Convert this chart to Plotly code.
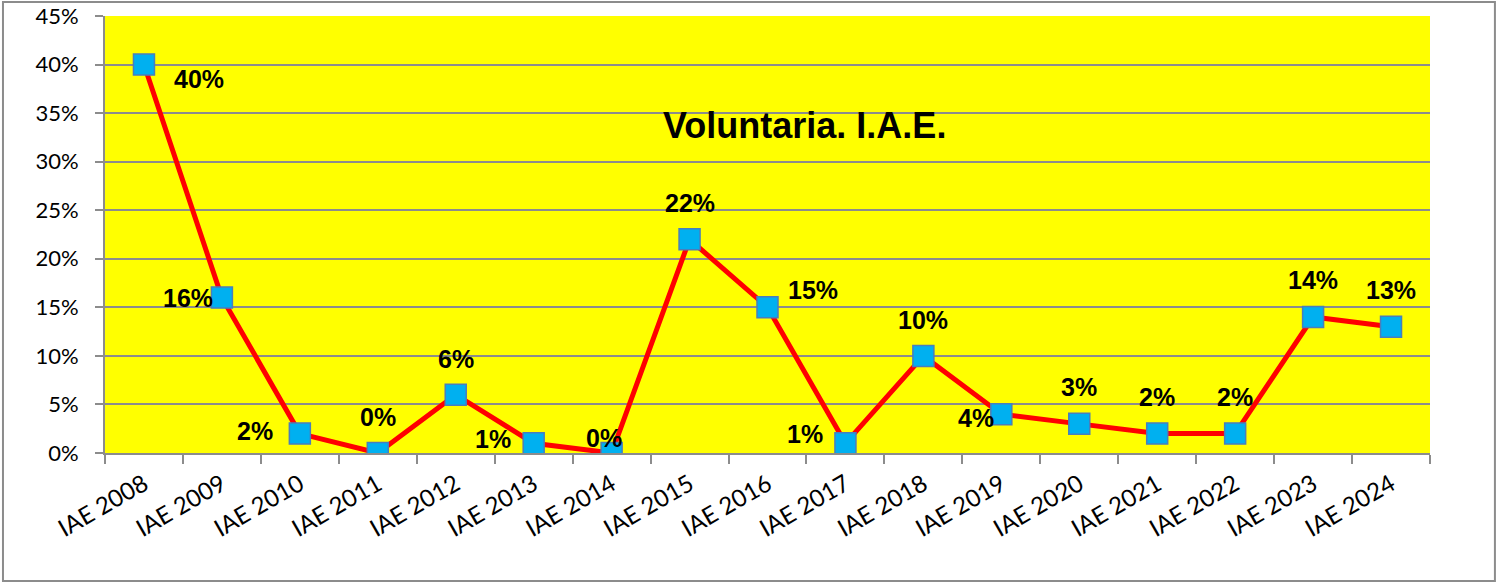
import plotly.graph_objects as go

# data
categories = ["IAE 2008", "IAE 2009", "IAE 2010", "IAE 2011", "IAE 2012", "IAE 2013",
              "IAE 2014", "IAE 2015", "IAE 2016", "IAE 2017", "IAE 2018", "IAE 2019",
              "IAE 2020", "IAE 2021", "IAE 2022", "IAE 2023", "IAE 2024"]
values = [0.40, 0.16, 0.02, 0.00, 0.06, 0.01, 0.00, 0.22, 0.15, 0.01, 0.10, 0.04,
          0.03, 0.02, 0.02, 0.14, 0.13]
title_text = "Voluntaria. I.A.E."

# where each data label sits relative to its point (pixels)
label_shift = [(55, -14), (-34, 0), (-45, 3), (0, 36), (0, 36), (-41, 4), (-8, 15),
               (0, 36), (45, 17), (-40, 9), (0, 36), (-25, -4), (0, 37), (0, 37),
               (0, 37), (0, 37), (0, 37)]

GRID = "#8c8c8c"

fig = go.Figure()
fig.add_trace(go.Scatter(
    x=categories, y=values, mode="lines+markers",
    line=dict(color="#FF0000", width=5),
    marker=dict(symbol="square", size=21, color="#00B0F0",
                line=dict(color="#4A7EBB", width=1.5)),
    hoverinfo="x+y", showlegend=False,
))

for cat, val, (dx, dy) in zip(categories, values, label_shift):
    fig.add_annotation(x=cat, y=val, text=f"{val:.0%}", showarrow=False,
                       xshift=dx, yshift=dy,
                       font=dict(family="Liberation Sans, Arial", size=25, color="black",
                                 weight="bold"))

fig.add_annotation(x=0.528, y=0.75, xref="paper", yref="paper", text=title_text,
                   showarrow=False, xanchor="center", yanchor="middle",
                   font=dict(family="Liberation Sans, Arial", size=36, color="black",
                             weight="bold"))

# outer chart border
fig.add_shape(type="rect", xref="paper", yref="paper",
              x0=-0.077, x1=1.049, y0=-0.293, y1=1.032,
              line=dict(color=GRID, width=2), fillcolor="rgba(0,0,0,0)", layer="below")

fig.update_layout(
    width=1499, height=584,
    margin=dict(l=105, r=69, t=16, b=131, autoexpand=False),
    paper_bgcolor="white", plot_bgcolor="#FFFF00",
    font=dict(family="Lato, sans-serif", size=20, color="black"),
)
fig.update_xaxes(
    type="category", range=[-0.5, 16.5], tickangle=-30, automargin=False,
    ticks="outside", tickson="boundaries", ticklen=9, tickcolor=GRID, tickwidth=2,
    showline=True, linecolor=GRID, linewidth=2, showgrid=False,
    ticklabelstandoff=6,
    tickfont=dict(family="Lato, sans-serif", size=24),
)
fig.update_yaxes(
    range=[0, 0.45], dtick=0.05, tickformat=".0%", automargin=False,
    ticks="outside", ticklen=8, tickcolor=GRID, tickwidth=2,
    showline=True, linecolor=GRID, linewidth=2,
    showgrid=True, gridcolor=GRID, gridwidth=2, zeroline=False,
    ticklabelstandoff=12, ticklabeloverflow="allow",
    tickfont=dict(family="Lato, sans-serif", size=22),
)

# drop the default page margin so the figure fills the window
fig.write_html("out.html", config={"displayModeBar": False},
               post_script="document.body.style.margin = '0';")
